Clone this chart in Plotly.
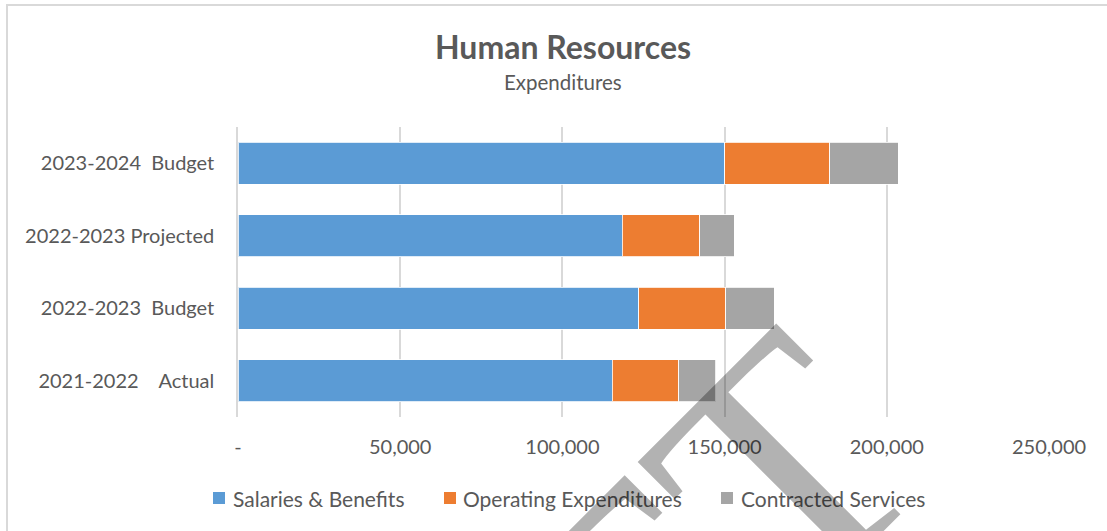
import plotly.graph_objects as go

categories = ["2021-2022    Actual", "2022-2023  Budget", "2022-2023 Projected", "2023-2024  Budget"]
salaries = [115300, 123500, 118500, 150000]
operating = [20500, 26800, 23800, 32400]
contracted = [11500, 15000, 10700, 21100]
series_names = ["Salaries & Benefits", "Operating Expenditures", "Contracted Services"]
colors = ["#5B9BD5", "#ED7D31", "#A5A5A5"]
tick_vals = [0, 50000, 100000, 150000, 200000, 250000]
tick_text = ["-", "50,000", "100,000", "150,000", "200,000", "250,000"]

FONT = "Lato"
TXT = "#595959"

W, H = 1107, 531
L, R, T, B = 238, 58, 127, 114
PW, PH = W - L - R, H - T - B


def px(x):
    return (x - L) / PW


def py(y):
    return (H - B - y) / PH


fig = go.Figure()
for name, vals, col in zip(series_names, [salaries, operating, contracted], colors):
    fig.add_trace(go.Bar(
        y=categories, x=vals, name=name, orientation="h",
        marker=dict(color=col, line=dict(color="rgba(255,255,255,0.8)", width=1)),
        width=0.58, showlegend=False,
    ))

annotations = [
    dict(text="<b>Human Resources</b>", x=px(563), y=py(47), xref="paper", yref="paper",
         xanchor="center", yanchor="middle", showarrow=False,
         font=dict(family=FONT, size=32, color=TXT)),
    dict(text="Expenditures", x=px(563), y=py(82), xref="paper", yref="paper",
         xanchor="center", yanchor="middle", showarrow=False,
         font=dict(family=FONT, size=20.5, color=TXT)),
]
shapes = [
    dict(type="rect", xref="paper", yref="paper", x0=px(7), x1=px(1130), y0=py(560), y1=py(5),
         line=dict(color="#D9D9D9", width=2), fillcolor="rgba(0,0,0,0)", layer="below"),
]

# manual legend
leg_marker_x = [213, 444, 721]
leg_text_x = [231, 461, 739]
for name, col, mx, tx in zip(series_names, colors, leg_marker_x, leg_text_x):
    shapes.append(dict(type="rect", xref="paper", yref="paper", x0=px(mx), x1=px(mx + 12),
                       y0=py(504), y1=py(492), line=dict(width=0), fillcolor=col))
    annotations.append(dict(text=name, x=px(tx), y=py(498), xref="paper", yref="paper",
                            xanchor="left", yanchor="middle", showarrow=False,
                            font=dict(family=FONT, size=21, color=TXT)))

# watermark
annotations.append(dict(text="DRAFT", x=px(462), y=py(790), xref="paper", yref="paper",
                        xanchor="center", yanchor="middle", showarrow=False, textangle=-45,
                        font=dict(family="Liberation Serif", size=340, color="rgba(0,0,0,0.3)")))

fig.update_layout(
    barmode="stack",
    width=W, height=H,
    margin=dict(l=L, r=R, t=T, b=B),
    paper_bgcolor="white", plot_bgcolor="white",
    font=dict(family=FONT, size=20, color=TXT),
    showlegend=False,
    xaxis=dict(range=[0, 250000], tickvals=tick_vals, ticktext=tick_text,
               showgrid=True, gridcolor="#D9D9D9", gridwidth=1.5,
               zeroline=False, showline=False, ticklabelstandoff=16,
               tickfont=dict(family=FONT, size=20, color=TXT)),
    yaxis=dict(categoryorder="array", categoryarray=categories,
               showline=True, linecolor="#D9D9D9", linewidth=1.5,
               showgrid=False, zeroline=False, ticklabelstandoff=18,
               tickfont=dict(family=FONT, size=20, color=TXT)),
    annotations=annotations,
    shapes=shapes,
)

fig.write_html("out.html", config={"displayModeBar": False},
               post_script="document.body.style.margin='0';")
